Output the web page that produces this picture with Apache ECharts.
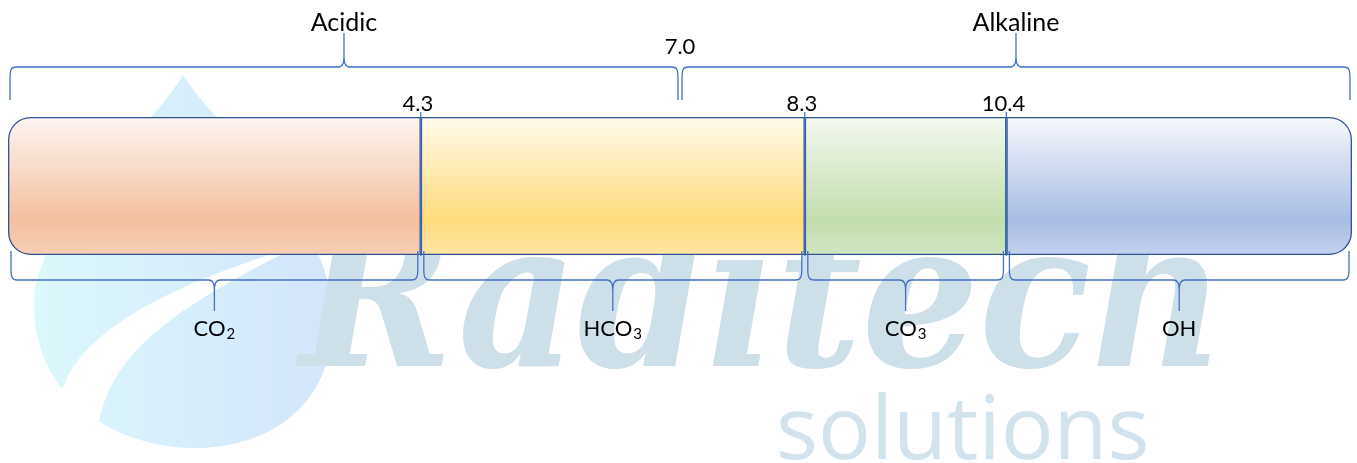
<!DOCTYPE html>
<html>
<head>
<meta charset="utf-8">
<script src="https://cdn.jsdelivr.net/npm/echarts@6/dist/echarts.min.js"></script>
<style>
  html, body { margin: 0; padding: 0; background: #ffffff; }
  #chart { width: 1357px; height: 463px; }
</style>
</head>
<body>
<div id="chart"></div>
<script>
// pH scale
const phMin = 0;
const phMax = 14;

// Species zones along the scale (edges) and their names
const zoneEdges = [0, 4.3, 8.3, 10.4, 14];
const zoneNames = ['CO\u2082', 'HCO\u2083', 'CO\u2083', 'OH'];

// Marked break points between zones
const breakPoints = [4.3, 8.3, 10.4];

// Acidic / alkaline ranges
const rangeEdges = [0, 7.0, 14];
const rangeNames = ['Acidic', 'Alkaline'];
const neutralPoint = [7.0];

const zoneColors = [
  ['#fdf5f1', '#f4c09e', '#f7cfb5'],
  ['#fffaec', '#ffdb7c', '#ffe5a3'],
  ['#f4f9f0', '#c2deae', '#cfe5c1'],
  ['#f6f8fc', '#a8bde4', '#c3d1ec']
];

const FONT = 'Lato, "Noto Sans", sans-serif';
const BRACE = '#4472c4';

const chart = echarts.init(document.getElementById('chart'));

function linear(x, y, x2, y2, stops) {
  return { type: 'linear', x: x, y: y, x2: x2, y2: y2, colorStops: stops, global: false };
}

function grad(c) {
  return linear(0, 0, 0, 1, [
    { offset: 0, color: c[0] },
    { offset: 0.74, color: c[1] },
    { offset: 1, color: c[2] }
  ]);
}

// Turn unicode subscript digits into rich-text tokens so they render as real subscripts
const SUB = '\u2080\u2081\u2082\u2083\u2084\u2085\u2086\u2087\u2088\u2089';
function toRich(name) {
  let out = '';
  let buf = '';
  for (const ch of name) {
    const k = SUB.indexOf(ch);
    if (k >= 0) {
      if (buf) { out += '{m|' + buf + '}'; buf = ''; }
      out += '{s|' + k + '}';
    } else {
      buf += ch;
    }
  }
  if (buf) out += '{m|' + buf + '}';
  return out;
}

// Zone bars, stacked from the edges
const zoneSeries = zoneNames.map((name, i) => {
  const last = zoneNames.length - 1;
  let radius = 0;
  if (i === 0) radius = [22, 0, 0, 22];
  if (i === last) radius = [0, 22, 22, 0];
  return {
    type: 'bar',
    name: name,
    stack: 'ph',
    barWidth: '100%',
    silent: true,
    z: 2,
    data: [+(zoneEdges[i + 1] - zoneEdges[i]).toFixed(2)],
    itemStyle: {
      color: grad(zoneColors[i]),
      borderColor: '#2f5496',
      borderWidth: 1.3,
      borderRadius: radius
    }
  };
});

// Curly brace path between x1 and x2, horizontal at yLine, tip toward yTip
function bracePath(x1, x2, yEnd, yLine, yTip) {
  const s = yTip > yLine ? 1 : -1;
  const e = -s;
  const xm = (x1 + x2) / 2;
  return [
    'M', x1, yEnd,
    'L', x1, yLine + e * 11,
    'C', x1, yLine + e * 3, x1 + 1, yLine, x1 + 6, yLine,
    'L', xm - 6, yLine,
    'C', xm - 1, yLine, xm, yLine + s * 4, xm, yLine + s * 12,
    'L', xm, yTip,
    'M', xm, yLine + s * 12,
    'C', xm, yLine + s * 4, xm + 1, yLine, xm + 6, yLine,
    'L', x2 - 6, yLine,
    'C', x2 - 1, yLine, x2, yLine + e * 3, x2, yLine + e * 11,
    'L', x2, yEnd
  ].join(' ');
}

const allNames = zoneNames.concat(rangeNames);

function renderBrace(params, api) {
  const a = api.coord([api.value(0), 0]);
  const b = api.coord([api.value(1), 0]);
  const side = api.value(2);
  const label = allNames[api.value(3)];
  const band = api.size([0, 1])[1];
  const top = a[1] - band / 2;
  const bottom = a[1] + band / 2;
  let x1, x2, yEnd, yLine, yTip, ly, fs;
  if (side === 0) {
    x1 = a[0] + 2; x2 = b[0] - 2;
    yEnd = top - 17; yLine = top - 50; yTip = top - 84; ly = yTip - 10; fs = 25;
  } else {
    x1 = a[0] + 3; x2 = b[0] - 3;
    yEnd = bottom - 4; yLine = bottom + 25; yTip = bottom + 56; ly = yTip + 18; fs = 22;
  }
  const xm = (x1 + x2) / 2;
  return {
    type: 'group',
    children: [
      {
        type: 'path',
        shape: { pathData: bracePath(x1, x2, yEnd, yLine, yTip) },
        style: { fill: 'none', stroke: BRACE, lineWidth: 1.3 }
      },
      {
        type: 'text',
        style: {
          text: toRich(label), x: xm, y: ly,
          align: 'center', verticalAlign: 'middle',
          fill: '#000000',
          rich: {
            m: { fontFamily: FONT, fontSize: fs, lineHeight: fs + 4, fill: '#000000' },
            s: { fontFamily: FONT, fontSize: Math.round(fs * 0.68), verticalAlign: 'bottom', lineHeight: fs + 4, padding: [0, 0, 0, 1], fill: '#000000' }
          }
        }
      }
    ]
  };
}

// Company watermark drawn behind the scale
function renderWatermark() {
  return {
    type: 'group',
    children: [
      {
        type: 'path',
        shape: { pathData: 'M183,75 C215,128 332,215 333,318 C334,398 278,446 200,448 C122,450 34,402 34,305 C34,222 150,132 183,75 Z' },
        style: {
          fill: linear(0, 0, 1, 0, [
            { offset: 0, color: '#dbf8fc' },
            { offset: 1, color: '#d3e5fb' }
          ])
        }
      },
      {
        type: 'path',
        shape: { pathData: 'M62,445 C38,360 120,300 300,245 C160,315 100,360 96,448 Z' },
        style: { fill: '#ffffff' }
      },
      {
        type: 'text',
        style: {
          text: 'Raditech', x: 300, y: 415,
          align: 'left', verticalAlign: 'bottom',
          font: 'italic bold 205px "DejaVu Serif Condensed", "DejaVu Serif", serif',
          fill: '#cddfe9'
        }
      },
      {
        type: 'text',
        style: {
          text: 'solutions', x: 776, y: 478,
          align: 'left', verticalAlign: 'bottom',
          font: '88px "Open Sans", sans-serif',
          fill: '#d3e3ed'
        }
      }
    ]
  };
}

const topBraces = rangeNames.map((n, i) => [rangeEdges[i], rangeEdges[i + 1], 0, allNames.indexOf(n)]);
const bottomBraces = zoneNames.map((n, i) => [zoneEdges[i], zoneEdges[i + 1], 1, allNames.indexOf(n)]);

const option = {
  animation: false,
  backgroundColor: '#ffffff',
  grid: { left: 8, right: 5, top: 117, height: 138 },
  xAxis: { type: 'value', min: phMin, max: phMax, show: false },
  yAxis: { type: 'category', data: ['pH'], show: false },
  series: [
    {
      type: 'custom',
      name: 'watermark',
      silent: true,
      z: 0,
      clip: false,
      data: [[phMin]],
      renderItem: renderWatermark
    }
  ].concat(zoneSeries).concat([
    {
      type: 'custom',
      name: 'braces',
      silent: true,
      z: 3,
      data: topBraces.concat(bottomBraces),
      renderItem: renderBrace
    },
    {
      type: 'custom',
      name: 'breaks',
      silent: true,
      z: 4,
      data: breakPoints.map(v => [v]),
      renderItem: function (params, api) {
        const p = api.coord([api.value(0), 0]);
        const band = api.size([0, 1])[1];
        const top = p[1] - band / 2;
        const bottom = p[1] + band / 2;
        return {
          type: 'group',
          children: [
            {
              type: 'line',
              shape: { x1: p[0], y1: top - 5, x2: p[0], y2: bottom + 1 },
              style: { stroke: BRACE, lineWidth: 1.2 }
            },
            {
              type: 'text',
              style: {
                text: api.value(0).toFixed(1), x: p[0] - 3, y: top - 13,
                align: 'center', verticalAlign: 'middle',
                font: '22px ' + FONT, fill: '#000000'
              }
            }
          ]
        };
      }
    },
    {
      type: 'custom',
      name: 'neutral',
      silent: true,
      z: 4,
      data: neutralPoint.map(v => [v]),
      renderItem: function (params, api) {
        const p = api.coord([api.value(0), 0]);
        const band = api.size([0, 1])[1];
        const top = p[1] - band / 2;
        return {
          type: 'text',
          style: {
            text: api.value(0).toFixed(1), x: p[0], y: top - 70,
            align: 'center', verticalAlign: 'middle',
            font: '22px ' + FONT, fill: '#000000'
          }
        };
      }
    }
  ])
};

chart.setOption(option);
</script>
</body>
</html>
